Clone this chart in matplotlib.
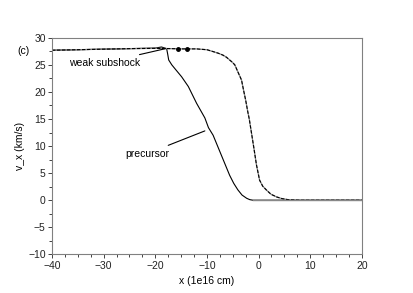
import matplotlib.pyplot as plt
import numpy as np

plt.rcParams['font.family'] = ['Liberation Sans', 'DejaVu Sans']

# full shock profile (dashed)
x_shock = [-40, -35, -30, -25, -20, -17, -15, -12, -11.4, -10, -8.8, -7.8, -6.9,
           -6.2, -5.6, -5.1, -4.6, -4.0, -3.3, -2.9, -2.5, -2.1, -1.8, -1.4,
           -0.9, -0.4, 0.2, 0.8, 1.5, 2.4, 3.5, 4.5, 5.7, 8.0, 20]
v_shock = [27.7, 27.8, 27.9, 28.0, 28.05, 28.0, 27.95, 27.95, 27.9, 27.8, 27.45,
           27.15, 26.8, 26.4, 25.9, 25.5, 25.0, 23.7, 22.2, 20.3, 18.5, 16.4,
           15.0, 12.6, 9.6, 6.5, 3.7, 2.6, 1.9, 1.1, 0.6, 0.3, 0.1, 0.0, 0.0]

# precursor profile (solid)
x_prec = [-40, -35, -30, -25, -20, -18.8, -17.8, -17.6, -17.4, -16.8, -16.2,
          -14.9, -13.6, -12.0, -10.4, -9.7, -8.8, -7.2, -5.6, -4.8, -4.0, -3.2,
          -2.3, -1.7, -1.1, 20]
v_prec = [27.7, 27.8, 27.9, 28.0, 28.1, 28.3, 28.0, 27.0, 25.9, 25.0, 24.3,
          22.8, 21.0, 17.9, 15.2, 13.4, 12.0, 8.3, 4.6, 3.1, 1.9, 0.95,
          0.35, 0.1, 0.0, 0.0]

fig = plt.figure(figsize=(4.14, 2.93), dpi=100)
ax = fig.add_axes([0.1256, 0.132, 0.7484, 0.739])

ax.plot(x_prec, v_prec, color='black', lw=0.8)
ax.plot(x_shock, v_shock, color='#888888', lw=0.9)
ax.plot(x_shock, v_shock, color='black', lw=0.8, dashes=(3, 1.5))
ax.plot([-15.6, -13.8], [28.0, 27.95], 'o', color='black', ms=2.5)
ax.plot([-1.1, 20], [0, 0], color='#888888', lw=1.0)

ax.set_xlim(-40, 20)
ax.set_ylim(-10, 30)
ax.set_xticks(np.arange(-40, 21, 10))
ax.set_yticks(np.arange(-10, 31, 5))
ax.set_xticks(np.arange(-40, 21, 2.5), minor=True)
ax.set_yticks(np.arange(-10, 31, 2.5), minor=True)
ax.tick_params(which='both', direction='out', labelsize=7.5, colors='#222222',
               top=False, right=False, width=0.6)
ax.tick_params(which='major', length=3, pad=1.5)
ax.tick_params(which='minor', length=2)
for s in ax.spines.values():
    s.set_color('#808080')
    s.set_linewidth(0.8)

ax.set_xlabel('x (1e16 cm)', fontsize=7.5, labelpad=4)
ax.set_ylabel('v_x (km/s)', fontsize=7.5, labelpad=2)

ax.text(-45.6, 27.6, '(c)', fontsize=7.5, ha='center', va='center')
ax.annotate('weak subshock', xy=(-18.0, 28.0), xytext=(-23.0, 25.4),
            fontsize=7.5, ha='right', va='center',
            arrowprops=dict(arrowstyle='-', color='black', lw=0.8,
                            shrinkA=1, shrinkB=0))
ax.annotate('precursor', xy=(-10.4, 12.8), xytext=(-17.3, 8.6),
            fontsize=7.5, ha='right', va='center',
            arrowprops=dict(arrowstyle='-', color='black', lw=0.8,
                            shrinkA=1, shrinkB=0))

fig.savefig('out.png', dpi=100)
